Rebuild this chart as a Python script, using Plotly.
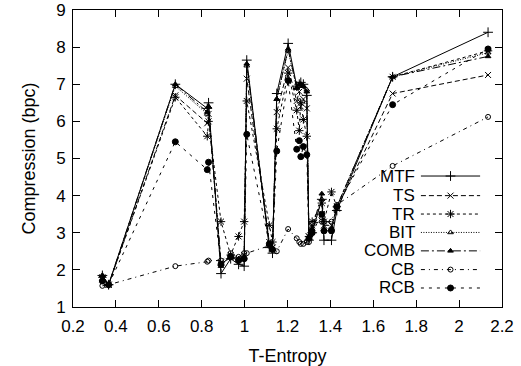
import plotly.graph_objects as go

t_entropy = [0.337, 0.366, 0.677, 0.826, 0.832, 0.89, 0.935, 0.972, 0.998, 1.01,
             1.115, 1.13, 1.15, 1.203, 1.243, 1.255, 1.262, 1.274, 1.29,
             1.30, 1.315, 1.36, 1.37, 1.405, 1.43, 1.69, 2.135]

mtf  = [1.85, 1.6, 7.0, 6.35, 6.5, 1.9, 2.3, 2.15, 2.1, 7.65,
        2.6, 2.45, 6.75, 8.1, 6.95, 7.0, 7.05, 7.0, 6.7,
        2.8, 3.0, 3.9, 2.8, 2.8, 3.6, 7.2, 8.4]
ts   = [1.75, 1.6, 6.7, 5.95, 6.2, 2.2, 2.35, 2.3, 2.4, 7.15,
        2.75, 2.6, 6.25, 7.45, 6.55, 6.8, 6.4, 6.6, 6.35,
        2.9, 3.2, 3.5, 3.2, 3.2, 3.65, 6.75, 7.25]
tr   = [1.8, 1.6, 6.65, 5.6, 6.0, 3.3, 2.4, 2.9, 3.3, 6.55,
        3.2, 2.75, 5.8, 7.3, 6.3, 5.75, 6.5, 6.05, 5.6,
        2.9, 3.3, 3.8, 3.3, 4.1, 3.7, 7.2, 7.9]
bit  = [1.85, 1.6, 6.95, 6.2, 6.4, 2.1, 2.4, 2.3, 2.35, 7.5,
        2.7, 2.55, 6.6, 7.9, 6.9, 6.95, 7.0, 6.95, 6.85,
        2.85, 3.1, 3.9, 3.1, 3.1, 3.7, 7.2, 7.85]
comb = [1.85, 1.6, 7.0, 6.25, 6.4, 2.15, 2.35, 2.3, 2.3, 7.55,
        2.7, 2.55, 6.6, 7.95, 6.9, 7.0, 7.0, 6.95, 6.8,
        2.85, 3.1, 4.05, 3.1, 3.1, 3.7, 7.2, 7.75]
cb   = [1.57, 1.6, 2.1, 2.22, 2.25, 2.25, 2.45, 2.35, 2.45, 2.45,
        2.65, 2.55, 2.5, 3.1, 2.85, 2.75, 2.7, 2.7, 2.75,
        2.75, 3.25, 3.3, 3.3, 3.3, 3.75, 4.8, 6.12]
rcb  = [1.7, 1.6, 5.45, 4.7, 4.9, 2.15, 2.35, 2.25, 2.3, 5.65,
        2.7, 2.55, 5.2, 7.1, 5.25, 5.48, 5.05, 5.32, 5.1,
        2.85, 3.0, 3.5, 3.05, 3.05, 3.7, 6.45, 7.95]

series_names = ["MTF", "TS", "TR", "BIT", "COMB", "CB", "RCB"]
series_values = [mtf, ts, tr, bit, comb, cb, rcb]

x_ticks = [0.2, 0.4, 0.6, 0.8, 1.0, 1.2, 1.4, 1.6, 1.8, 2.0, 2.2]
x_tick_labels = ["0.2", "0.4", "0.6", "0.8", "1", "1.2", "1.4", "1.6", "1.8", "2", "2.2"]
y_ticks = [1, 2, 3, 4, 5, 6, 7, 8, 9]

styles = [
    dict(dash="solid", symbol="cross-thin-open", size=7),
    dict(dash="5px,3px", symbol="x-thin-open", size=6),
    dict(dash="3px,3px", symbol="asterisk-open", size=7),
    dict(dash="1px,1.5px", symbol="triangle-up-open", size=5),
    dict(dash="8px,3px,2px,3px", symbol="triangle-up", size=5),
    dict(dash="4px,4px,1px,4px", symbol="circle-open", size=5),
    dict(dash="3px,5px", symbol="circle", size=6),
]

FONT = "Liberation Sans, Arial, sans-serif"
fig = go.Figure()

for name, vals, st in zip(series_names, series_values, styles):
    fig.add_trace(go.Scatter(
        x=t_entropy, y=vals, mode="lines+markers", name=name, showlegend=False,
        line=dict(color="black", width=1, dash=st["dash"]),
        marker=dict(symbol=st["symbol"], size=st["size"], color="black",
                    line=dict(color="black", width=1)),
    ))

# custom legend (text on the left, sample on the right, like gnuplot)
leg_rows = [0.441, 0.375, 0.313, 0.251, 0.189, 0.126, 0.064]
leg_x0, leg_x1, leg_xm, leg_text_x = 0.811, 0.949, 0.880, 0.802
annotations = []
for name, st, ry in zip(series_names, styles, leg_rows):
    fig.add_trace(go.Scatter(
        x=[leg_x0, leg_x1], y=[ry, ry], mode="lines", xaxis="x2", yaxis="y2",
        showlegend=False, hoverinfo="skip",
        line=dict(color="black", width=1, dash=st["dash"]),
    ))
    fig.add_trace(go.Scatter(
        x=[leg_xm], y=[ry], mode="markers", xaxis="x2", yaxis="y2",
        showlegend=False, hoverinfo="skip",
        marker=dict(symbol=st["symbol"], size=st["size"], color="black",
                    line=dict(color="black", width=1)),
    ))
    annotations.append(dict(
        text=name, xref="paper", yref="paper", x=leg_text_x, y=ry,
        xanchor="right", yanchor="middle", showarrow=False,
        font=dict(family=FONT, size=17, color="black"),
    ))

axis_common = dict(
    showline=True, linecolor="black", linewidth=1, mirror="ticks",
    ticks="inside", ticklen=7, tickcolor="black", tickwidth=1,
    showgrid=False, zeroline=False, automargin=False,
    tickfont=dict(family=FONT, size=17, color="black"),
)

fig.update_layout(
    width=521, height=366,
    margin=dict(l=73, r=19, t=10, b=59),
    paper_bgcolor="white", plot_bgcolor="white",
    font=dict(family=FONT, color="black"),
    xaxis=dict(range=[0.2, 2.2], tickvals=x_ticks, ticktext=x_tick_labels,
               ticklabelstandoff=4,
               title=dict(text="T-Entropy", font=dict(family=FONT, size=18)),
               **axis_common),
    yaxis=dict(range=[1, 9], tickvals=y_ticks, ticklabelstandoff=3,
               title=dict(text="Compression (bpc)", font=dict(family=FONT, size=18)),
               **axis_common),
    xaxis2=dict(overlaying="x", range=[0, 1], visible=False),
    yaxis2=dict(overlaying="y", range=[0, 1], visible=False),
    annotations=annotations,
    showlegend=False,
)

fig.write_html(
    "out.html",
    config={"displayModeBar": False},
    post_script="document.body.style.margin='0px';document.body.style.padding='0px';document.body.style.overflow='hidden';",
)
